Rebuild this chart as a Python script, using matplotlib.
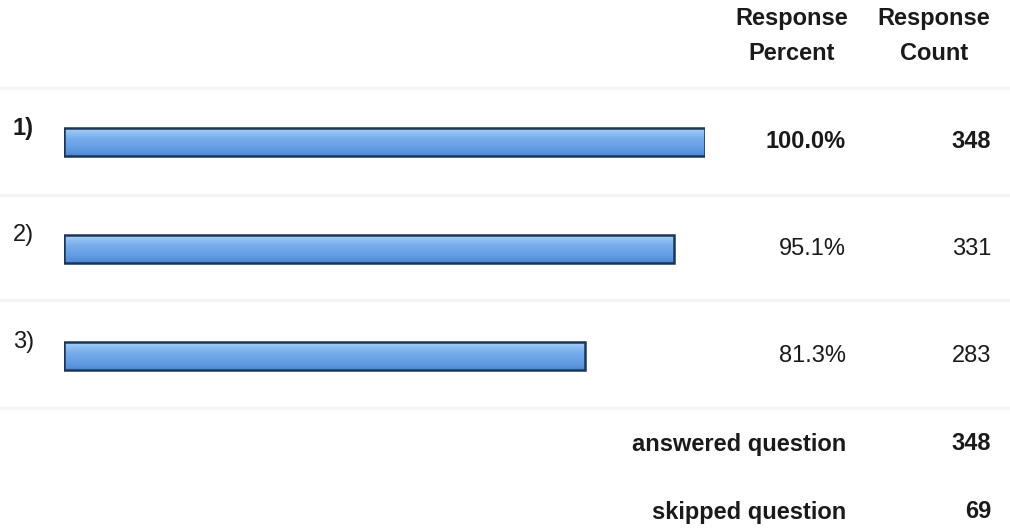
import numpy as np
import matplotlib.pyplot as plt
from matplotlib.colors import LinearSegmentedColormap

# 설문 응답 데이터
labels = ['1)', '2)', '3)']
percents = [100.0, 95.1, 81.3]
counts = [348, 331, 283]
answered = 348
skipped = 69

W, H = 1010, 529
plt.rcParams['font.family'] = ['Liberation Sans', 'DejaVu Sans']

fig = plt.figure(figsize = (W / 100, H / 100), dpi = 100)
fig.patch.set_facecolor('white')

def fx(x):
    return x / W

def fy(y):
    return 1 - y / H

# 막대 영역: 0~100% -> 64~705 px, 항목 간격 107 px
ax = fig.add_axes([fx(64), fy(409.5), (705 - 64) / W, 321 / H])
ax.set_xlim(0, 100)
ax.set_ylim(2.5, -0.5)
ax.axis('off')

ypos = np.arange(len(labels))
bars = ax.barh(ypos, percents, height = 0.26, color = '#6aa3e6',
               edgecolor = '#1c3558', linewidth = 1.8, zorder = 2)

# 막대 그라데이션 (위쪽 밝게, 아래쪽 어둡게)
grad = LinearSegmentedColormap.from_list('g', ['#a9d0f7', '#8cbcf0', '#74abea', '#6aa3e6', '#5f98df', '#4d88d2'])
for b in bars:
    x0, y0 = b.get_x(), b.get_y()
    im = ax.imshow(np.linspace(0, 1, 50).reshape(-1, 1), cmap = grad, aspect = 'auto',
                   extent = [x0, x0 + b.get_width(), y0 + b.get_height(), y0],
                   zorder = 2.5)
    im.set_clip_path(b)
    b.set_facecolor('none')
    b.set_zorder(3)

# 옅은 구분선
for y in [88, 195, 300, 408]:
    fig.add_artist(plt.Line2D([0, 1], [fy(y), fy(y)], color = '#f5f5f5', lw = 2.5, zorder = 0))

txt = dict(color = '#1a1a1a', fontsize = 17)

# 헤더
fig.text(fx(792), fy(19), 'Response', ha = 'center', va = 'center', fontweight = 'bold', **txt)
fig.text(fx(792), fy(54), 'Percent', ha = 'center', va = 'center', fontweight = 'bold', **txt)
fig.text(fx(934), fy(19), 'Response', ha = 'center', va = 'center', fontweight = 'bold', **txt)
fig.text(fx(934), fy(54), 'Count', ha = 'center', va = 'center', fontweight = 'bold', **txt)

for i, lab in enumerate(labels):
    weight = 'bold' if i == 0 else 'normal'
    cy = ax.transData.transform((0, ypos[i]))[1]
    yf = cy / H
    fig.text(fx(13), yf + 14 / H, lab, ha = 'left', va = 'center', fontweight = weight, **txt)
    fig.text(fx(846), yf, '%.1f%%' % percents[i], ha = 'right', va = 'center', fontweight = weight, **txt)
    fig.text(fx(991), yf, str(counts[i]), ha = 'right', va = 'center', fontweight = weight, **txt)

fig.text(fx(846), fy(444), 'answered question', ha = 'right', va = 'center', fontweight = 'bold', **txt)
fig.text(fx(991), fy(444), str(answered), ha = 'right', va = 'center', fontweight = 'bold', **txt)
fig.text(fx(846), fy(512), 'skipped question', ha = 'right', va = 'center', fontweight = 'bold', **txt)
fig.text(fx(991), fy(512), str(skipped), ha = 'right', va = 'center', fontweight = 'bold', **txt)

fig.savefig('out.png', dpi = 100)
